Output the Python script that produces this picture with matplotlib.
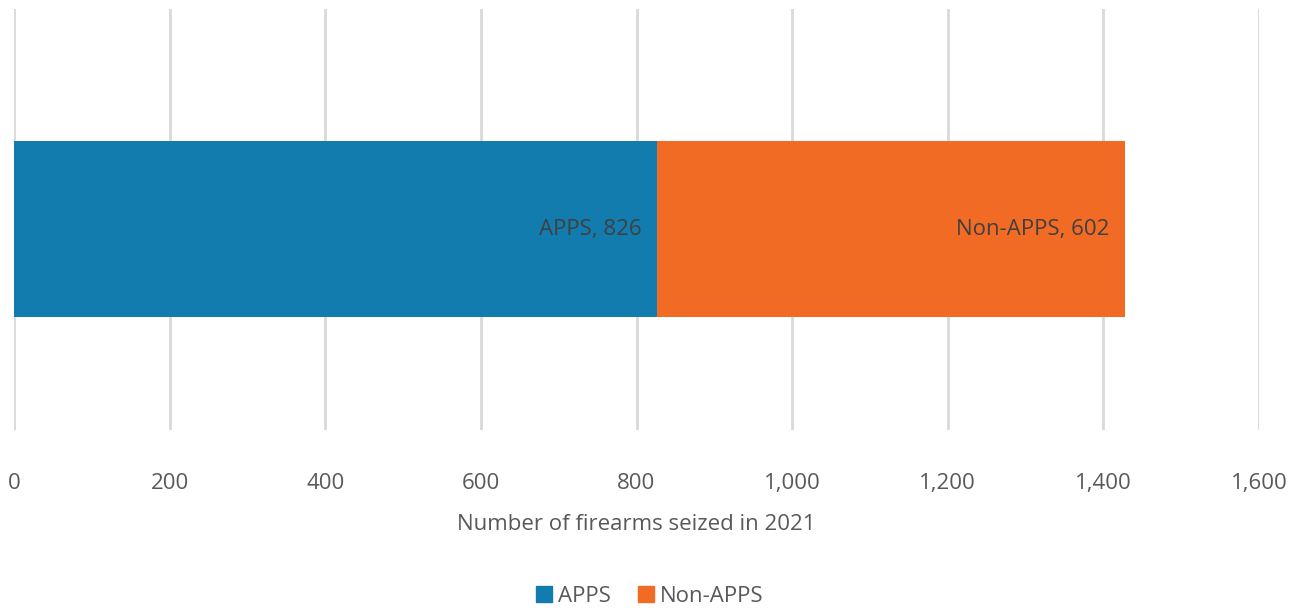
import matplotlib.pyplot as plt
from matplotlib.patches import Patch

plt.rcParams['font.family'] = ['Open Sans', 'DejaVu Sans']

categories = ['APPS', 'Non-APPS']
values = [826, 602]
colors = ['#137CAE', '#F26B24']
ticks = [0, 200, 400, 600, 800, 1000, 1200, 1400, 1600]

fig = plt.figure(figsize=(13, 6.09), dpi=100)
ax = fig.add_axes([14 / 1300, 179 / 609, 1245 / 1300, 421 / 609])

left = 0
for cat, val, col in zip(categories, values, colors):
    ax.barh(0, val, left=left, height=0.418, color=col, zorder=2)
    ax.text(left + val - 20, 0, f'{cat}, {val}', ha='right', va='center',
            fontsize=16, color='#404040', zorder=3)
    left += val

ax.set_xlim(0, 1600)
ax.set_ylim(-0.477, 0.523)
ax.set_xticks(ticks)
ax.set_xticklabels([f'{t:,}' for t in ticks], fontsize=16, color='#595959')
ax.set_yticks([])
ax.tick_params(axis='x', length=0, pad=31)
ax.grid(axis='x', color='#D9D9D9', linewidth=2, zorder=0)
for s in ax.spines.values():
    s.set_visible(False)

ax.set_xlabel('Number of firearms seized in 2021', fontsize=16, color='#595959', labelpad=14)

handles = [Patch(color=c, label=l) for c, l in zip(colors, categories)]
fig.legend(handles=handles, loc='center', bbox_to_anchor=(0.5, 1 - 596 / 609), ncol=2,
           frameon=False, fontsize=16, handlelength=0.7, handleheight=0.7,
           handletextpad=0.3, columnspacing=1.2, labelcolor='#595959')

fig.savefig('out.png', dpi=100)
